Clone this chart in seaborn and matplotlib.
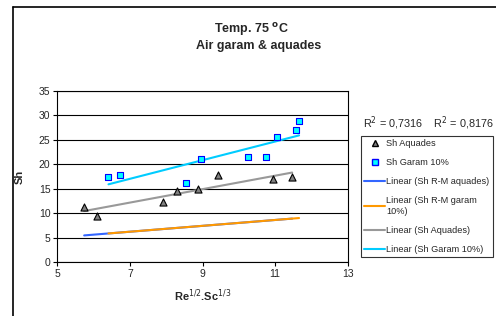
import matplotlib
matplotlib.use("Agg")
import matplotlib.pyplot as plt
import seaborn as sns
import numpy as np
import pandas as pd
from matplotlib.lines import Line2D

# Data
x_aquades = [5.74, 6.09, 7.90, 8.30, 8.87, 9.42, 10.95, 11.47]
sh_aquades = [11.3, 9.5, 12.2, 14.5, 14.9, 17.9, 17.0, 17.5]
x_garam = [6.41, 6.72, 8.54, 8.97, 10.26, 10.76, 11.05, 11.58, 11.66]
sh_garam = [17.5, 17.9, 16.2, 21.1, 21.4, 21.4, 25.6, 27.0, 28.9]
# Ranz-Marshall model values (hidden points, only their trend lines are shown)
sh_rm_aquades = [5.44, 5.65, 6.74, 6.98, 7.32, 7.65, 8.57, 8.88]
sh_rm_garam = [5.85, 6.03, 7.12, 7.38, 8.16, 8.46, 8.63, 8.95, 9.00]

r2_text = "R$^2$ = 0,7316    R$^2$ = 0,8176"
legend_labels = ["Sh Aquades", "Sh Garam 10%", "Linear (Sh R-M aquades)",
                 "Linear (Sh R-M garam\n10%)", "Linear (Sh Aquades)",
                 "Linear (Sh Garam 10%)"]

sns.set_theme(style="white")
plt.rcParams['font.family'] = ['Liberation Sans', 'DejaVu Sans']

fig = plt.figure(figsize=(4.96, 3.16), dpi=100)
ax = fig.add_axes([57.3/496, 1-262/316, (347.7-57.3)/496, (262-91)/316])

df_a = pd.DataFrame({"x": x_aquades, "sh": sh_aquades, "rm": sh_rm_aquades})
df_g = pd.DataFrame({"x": x_garam, "sh": sh_garam, "rm": sh_rm_garam})

lw = 1.5
sns.regplot(data=df_a, x="x", y="rm", ax=ax, scatter=False, ci=None, truncate=True,
            line_kws=dict(color="#3366ff", lw=lw, zorder=3))
sns.regplot(data=df_g, x="x", y="rm", ax=ax, scatter=False, ci=None, truncate=True,
            line_kws=dict(color="#ff9900", lw=lw, zorder=3))
sns.regplot(data=df_a, x="x", y="sh", ax=ax, scatter=False, ci=None, truncate=True,
            line_kws=dict(color="#999999", lw=lw, zorder=3))
sns.regplot(data=df_g, x="x", y="sh", ax=ax, scatter=False, ci=None, truncate=True,
            line_kws=dict(color="#00ccff", lw=lw, zorder=3))
sns.scatterplot(data=df_a, x="x", y="sh", ax=ax, marker="^", s=26,
                color="#808080", edgecolor="black", linewidth=0.8, zorder=4)
sns.scatterplot(data=df_g, x="x", y="sh", ax=ax, marker="s", s=22,
                color="#00ffff", edgecolor="#0000ff", linewidth=0.8, zorder=4)

ax.set_xlim(5, 13)
ax.set_ylim(0, 35)
ax.set_xticks([5, 7, 9, 11, 13])
ax.set_yticks(range(0, 36, 5))
ax.yaxis.grid(True, color="black", lw=0.8)
ax.set_axisbelow(True)
for s in ax.spines.values():
    s.set_color("black")
    s.set_linewidth(0.8)
ax.tick_params(axis="both", direction="out", length=3, width=0.8, color="black",
               labelsize=7.5, pad=2, left=True, bottom=True)
ax.set_xlabel("Re$^{1/2}$.Sc$^{1/3}$", fontsize=8, fontweight="bold", labelpad=6)
ax.set_ylabel("Sh", fontsize=8, fontweight="bold", labelpad=10)

fig.text(251/496, 1-30/316, "Temp. 75 $^{\\mathbf{o}}$C", ha="center", va="center",
         fontsize=9, fontweight="bold")
fig.text(259/496, 1-46/316, "Air garam & aquades", ha="center", va="center",
         fontsize=9, fontweight="bold")
fig.text(363/496, 1-123/316, r2_text, ha="left", va="center", fontsize=7.8)

handles = [
    Line2D([], [], ls="none", marker="^", ms=4, mfc="#808080", mec="black"),
    Line2D([], [], ls="none", marker="s", ms=4, mfc="#00ffff", mec="#0000ff"),
    Line2D([], [], color="#3366ff", lw=lw),
    Line2D([], [], color="#ff9900", lw=lw),
    Line2D([], [], color="#999999", lw=lw),
    Line2D([], [], color="#00ccff", lw=lw),
]
leg = fig.legend(handles, legend_labels, loc="upper left",
                 bbox_to_anchor=(361/496, 1-136/316), fontsize=6.6,
                 frameon=True, fancybox=False, edgecolor="black",
                 handlelength=2.3, handletextpad=0.1, labelspacing=1.1,
                 borderpad=0.35, borderaxespad=0)
leg.get_frame().set_linewidth(0.8)

# outer chart-area border (left and top visible)
fig.add_artist(Line2D([13/496, 13/496], [0, 1-7/316], color="black", lw=1.2))
fig.add_artist(Line2D([13/496, 1], [1-7/316, 1-7/316], color="black", lw=1.2))

fig.savefig("out.png", dpi=100)
